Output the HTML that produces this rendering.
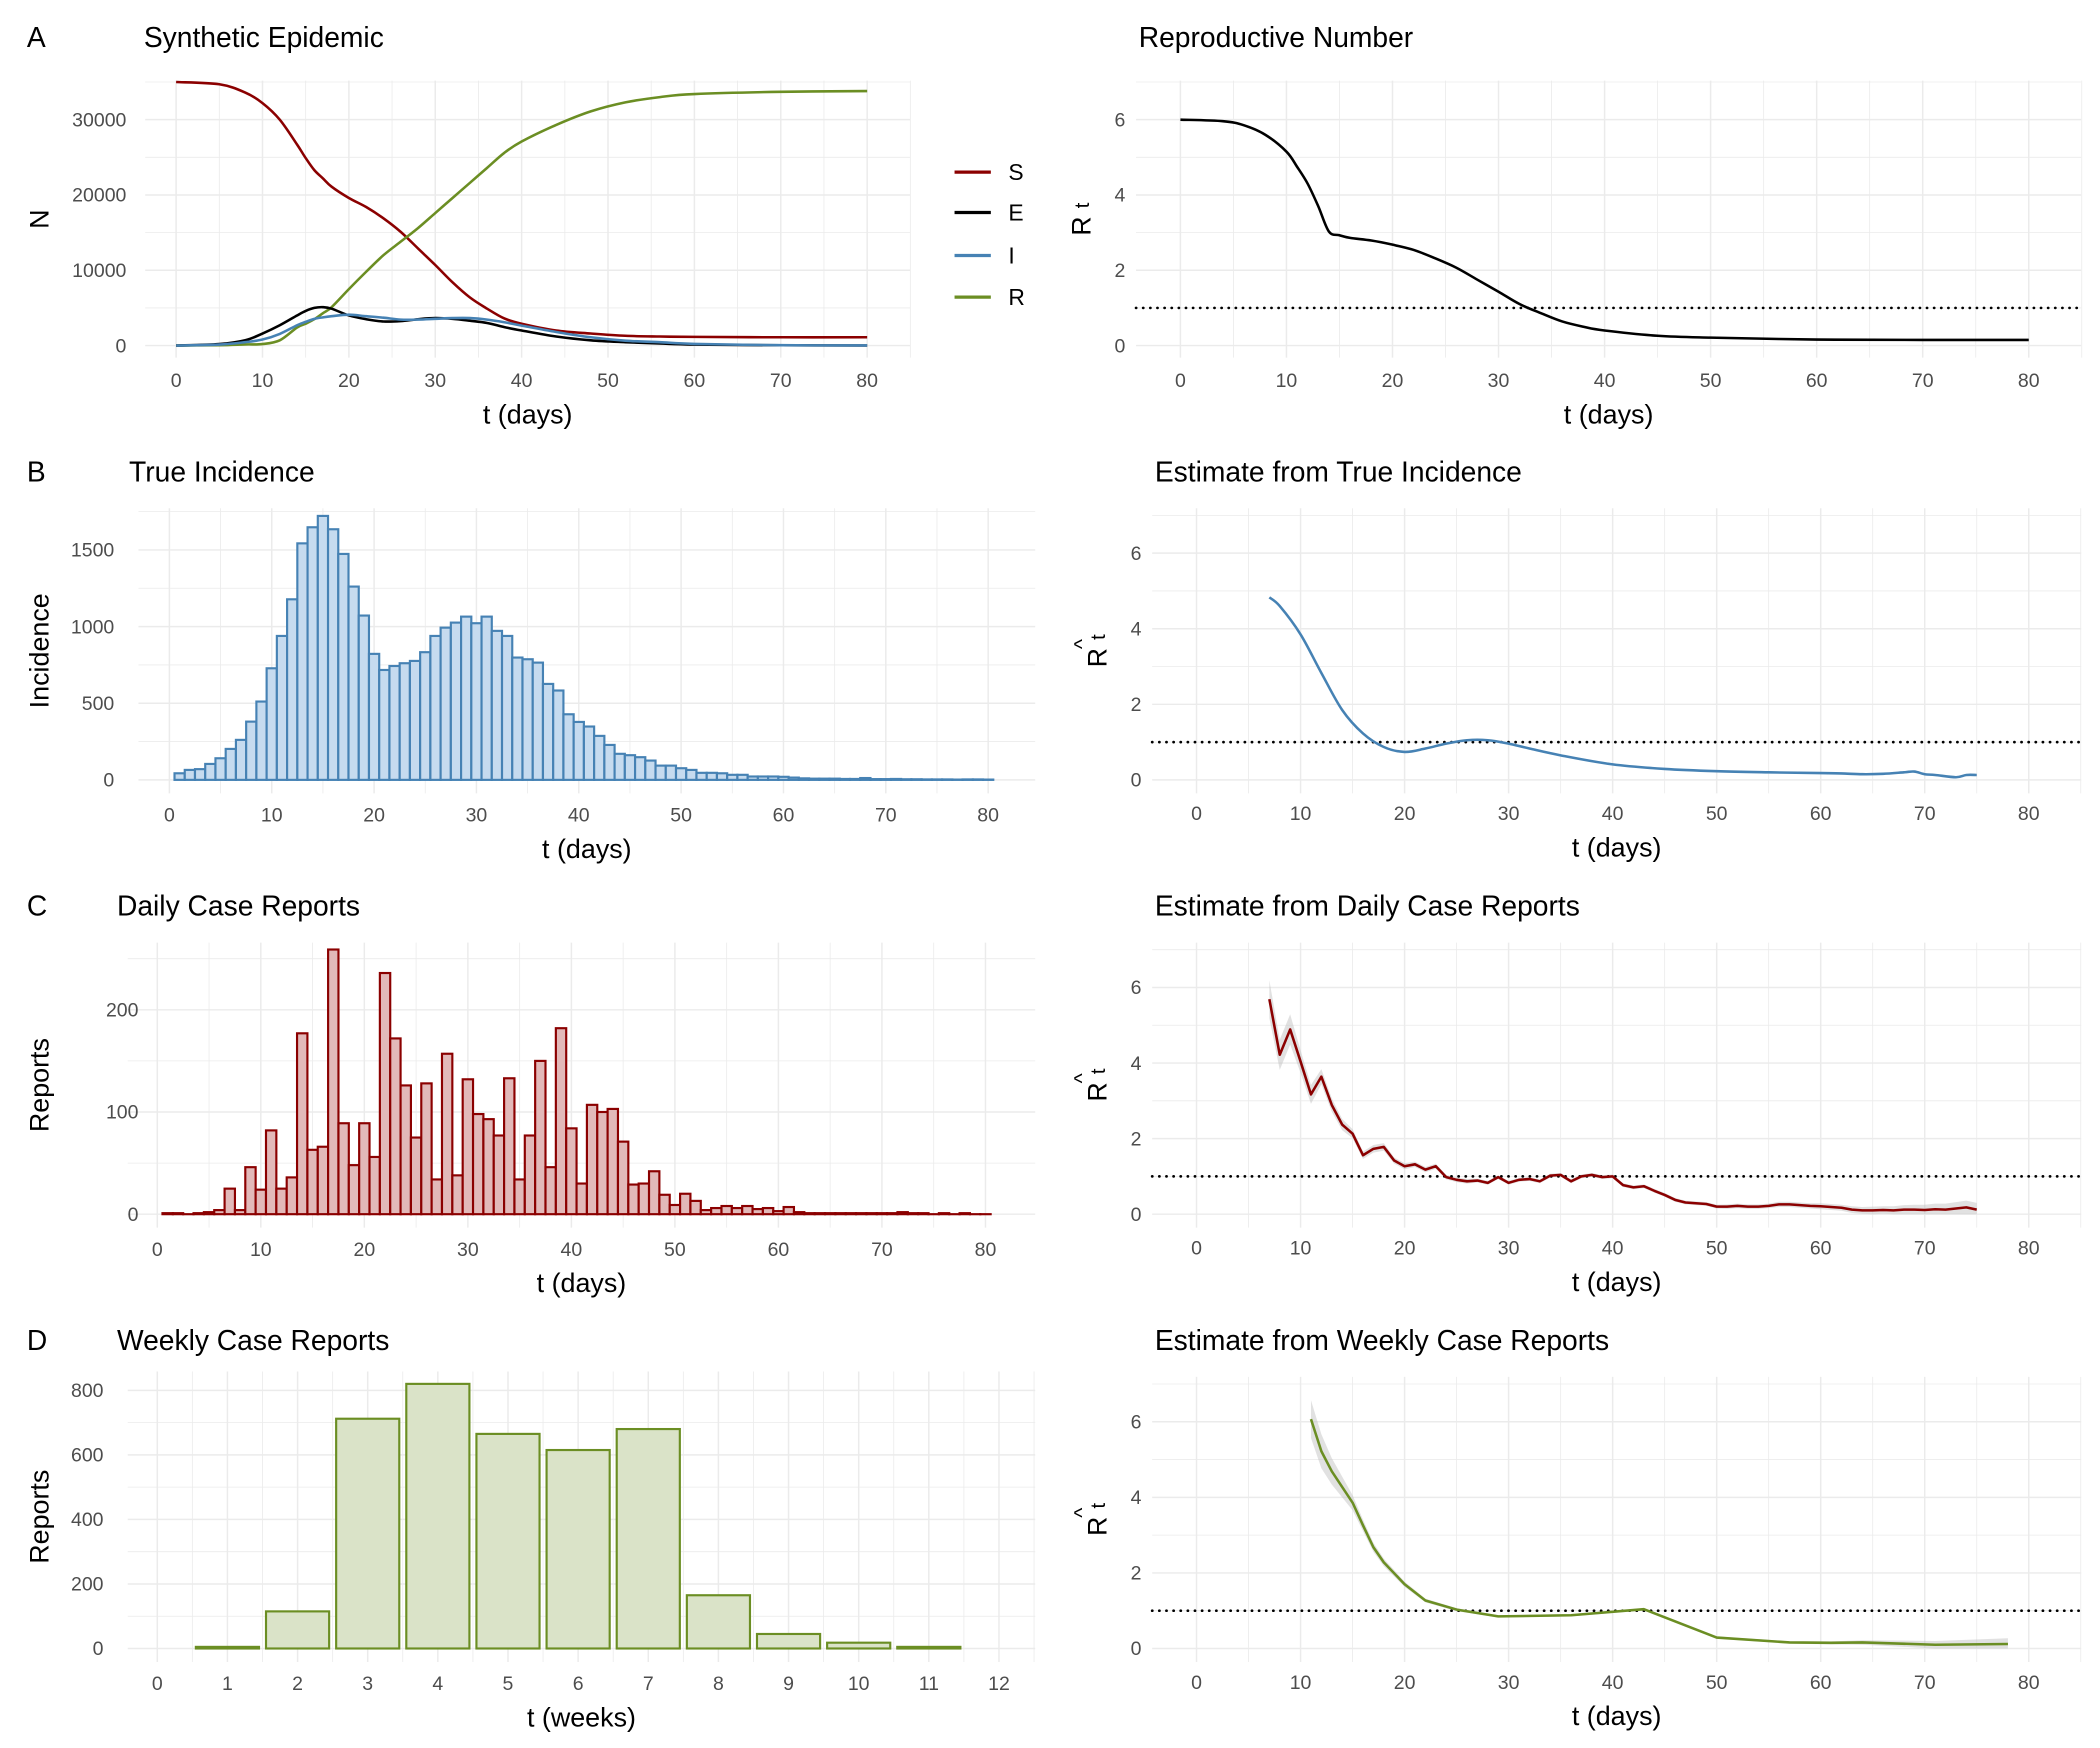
<!DOCTYPE html>
<html><head><meta charset="utf-8"><style>
html,body{margin:0;padding:0;background:#fff;}
svg{display:block;font-family:"Liberation Sans",sans-serif;}
</style></head><body>
<svg id="fig" width="2100" height="1748" viewBox="0 0 1562 1300" preserveAspectRatio="none" xmlns="http://www.w3.org/2000/svg"></svg>
<script>
// ---------- data ----------
const seirDays = [0,5,8,10,12,14,15,16,17,18,20,22,24,26,28,30,32,34,36,38,40,44,48,52,56,60,70,80];
const sVals = [35000,34700,33600,32200,30000,26700,24900,23300,22200,21100,19600,18400,16900,15100,12900,10700,8400,6400,4900,3600,2900,2000,1600,1300,1200,1150,1100,1100];
const eVals = [0,200,700,1600,2700,4000,4600,5000,5100,4900,4000,3500,3200,3250,3500,3650,3550,3300,3000,2450,2000,1200,700,450,270,130,40,10];
const iVals = [0,130,450,800,1550,2700,3150,3550,3750,3900,4100,3900,3700,3450,3450,3550,3650,3650,3450,3100,2650,1800,1100,650,450,220,50,20];
const rVals = [0,50,150,200,700,2400,2900,3500,4300,5100,7500,9800,12000,13800,15600,17600,19600,21600,23600,25600,27100,29300,31100,32300,33000,33400,33700,33800];

const rtDays = [0,4,6,8,10,11,12,13,14,15,16,18,20,22,24,26,28,30,32,34,36,38,40,45,50,60,70,80];
const rtVals = [6.0,5.96,5.85,5.6,5.15,4.75,4.3,3.7,3.03,2.93,2.86,2.79,2.68,2.54,2.32,2.07,1.75,1.43,1.1,0.86,0.64,0.5,0.4,0.26,0.21,0.16,0.15,0.15];

const incidence = [43,65,70,104,141,202,261,380,511,728,939,1178,1543,1648,1722,1635,1474,1261,1072,822,717,743,761,776,833,939,993,1026,1065,1022,1065,972,939,798,787,765,626,583,428,378,348,287,228,170,161,148,126,93,93,76,65,46,46,43,33,33,22,22,22,20,15,10,8,8,8,6,6,12,5,5,6,4,4,3,3,3,2,3,3,2];

const dailyReports = [1,1,0,1,2,4,25,4,46,24,82,25,36,177,63,66,259,89,48,89,56,236,172,126,75,128,34,157,38,132,98,93,77,133,34,77,150,46,182,84,30,107,100,103,71,29,30,42,19,9,20,13,4,6,8,6,8,5,6,3,7,2,1,1,1,1,1,1,1,1,1,2,1,1,0,1,0,1,0,0];

const weeks = [1,2,3,4,5,6,7,8,9,10,11];
const weeklyReports = [5,115,712,820,665,615,680,165,45,18,5];

const estTrueDays = [7,8,10,12,14,16,18,20,22,24,26,28,30,32,35,40,45,50,55,60,62,64,66,68,69,70,71,73,74,75];
const estTrueVals = [4.83,4.6,3.85,2.83,1.85,1.23,0.87,0.74,0.83,0.96,1.05,1.05,0.96,0.83,0.65,0.41,0.29,0.23,0.2,0.18,0.17,0.15,0.16,0.2,0.22,0.15,0.13,0.07,0.13,0.13];

const estDailyDays = [7,8,9,10,11,12,13,14,15,16,17,18,19,20,21,22,23,24,25,26,27,28,29,30,31,32,33,34,35,36,37,38,39,40,41,42,43,44,45,46,47,48,49,50,51,52,53,54,55,56,57,58,59,60,61,62,63,64,65,66,67,68,69,70,71,72,73,74,75];
const estDailyVals = [5.69,4.22,4.89,4.04,3.17,3.64,2.89,2.37,2.13,1.56,1.73,1.78,1.42,1.27,1.32,1.18,1.27,0.98,0.91,0.87,0.89,0.83,0.98,0.83,0.91,0.93,0.87,1.02,1.04,0.87,1.0,1.04,0.98,1.0,0.77,0.71,0.74,0.62,0.51,0.38,0.31,0.29,0.27,0.2,0.2,0.22,0.2,0.2,0.22,0.26,0.26,0.24,0.22,0.21,0.19,0.17,0.12,0.1,0.1,0.11,0.1,0.12,0.12,0.11,0.13,0.12,0.15,0.18,0.12];
const estDailyBand = [0.5,0.4,0.4,0.3,0.25,0.2,0.18,0.15,0.12,0.1,0.1,0.1,0.08,0.08,0.07,0.07,0.07,0.06,0.06,0.06,0.05,0.05,0.05,0.05,0.05,0.05,0.05,0.05,0.05,0.05,0.05,0.05,0.05,0.05,0.05,0.05,0.05,0.05,0.05,0.05,0.05,0.05,0.05,0.05,0.06,0.06,0.06,0.06,0.06,0.07,0.07,0.07,0.07,0.08,0.08,0.08,0.09,0.09,0.1,0.1,0.11,0.12,0.13,0.14,0.15,0.16,0.17,0.18,0.18];

const estWeeklyDays = [11,12,13,15,16,17,18,20,22,25,29,36,43,50,57,61,64,71,78];
const estWeeklyVals = [6.07,5.22,4.69,3.86,3.26,2.68,2.28,1.70,1.27,1.03,0.85,0.88,1.04,0.29,0.16,0.15,0.16,0.1,0.12];
const estWeeklyBand = [0.5,0.45,0.35,0.2,0.15,0.12,0.1,0.07,0.05,0.04,0.03,0.03,0.03,0.03,0.03,0.04,0.06,0.1,0.15];

const dayTicks = [0,10,20,30,40,50,60,70,80];
const weekTicks = [0,1,2,3,4,5,6,7,8,9,10,11,12];

// ---------- helpers ----------
const NS = "http://www.w3.org/2000/svg";
const svg = document.getElementById('fig');
function el(tag, attrs, parent, text){
  const e = document.createElementNS(NS, tag);
  for (const k in attrs) e.setAttribute(k, attrs[k]);
  if (text !== undefined) e.textContent = text;
  (parent || svg).appendChild(e);
  return e;
}
function makePanel(p){
  const g = el('g', {});
  
  
  p.sx = v => p.x0 + v * p.kx;
  p.sy = v => p.y0 - v * p.ky;
  const grid = el('g', {}, g);
  
  
  for (let v = p.xMinorStart; p.sx(v) <= p.right + 0.5; v += p.xStep / 2) {
    const X = p.sx(v); if (X < p.left - 0.5) continue;
    const major = Math.abs((v / p.xStep) - Math.round(v / p.xStep)) < 1e-6;
    const ln = el('line', {x1:X, x2:X, y1:p.top, y2:p.bottom, stroke:'#ebebeb', 'stroke-width': major ? 1.1 : 0.6}, grid);
    
    
  }
  for (let v = 0; p.sy(v) >= p.top - 0.5; v += p.yStep / 2) {
    const Y = p.sy(v);
    const major = Math.abs((v / p.yStep) - Math.round(v / p.yStep)) < 1e-6;
    const ln = el('line', {x1:p.left, x2:p.right, y1:Y, y2:Y, stroke:'#ebebeb', 'stroke-width': major ? 1.1 : 0.6}, grid);
    
    
  }
  p.xTicks.forEach(v => {
    const t = el('text', {x:p.sx(v), y:p.tickY, 'text-anchor':'middle', 'font-size':14.5, fill:'#4d4d4d'}, g, String(v));
    
    
  });
  for (let v = 0; p.sy(v) >= p.top; v += p.yStep) {
    const t = el('text', {x:p.yLabX, y:p.sy(v) + 5, 'text-anchor':'end', 'font-size':14.5, fill:'#4d4d4d'}, g, String(v));
    
    
  }
  const xt = el('text', {x:(p.left + p.right) / 2, y:p.tickY + 27, 'text-anchor':'middle', 'font-size':20, fill:'#000'}, g, p.xTitle);
  
  
  const ty = (p.top + p.bottom) / 2;
  const yt = el('text', {x:0, y:0, transform:'translate(' + (p.yTitleX) + ',' + ty + ') rotate(-90)', 'text-anchor':'middle', 'font-size':20, fill:'#000'}, g);
  
  
  if (p.yTitle === 'Rt' || p.yTitle === 'Rhat') {
    el('tspan', {}, yt, 'R');
    el('tspan', {dx:6, dy:-1, 'font-size':15}, yt, 't');
    if (p.yTitle === 'Rhat') {
      const h = el('text', {x:0, y:0, transform:'translate(' + (p.yTitleX - 13) + ',' + (ty - 5) + ') rotate(-90)', 'text-anchor':'middle', 'font-size':16}, g, '^');
      
      
    }
  } else {
    yt.textContent = p.yTitle;
  }
  const lt = el('text', {x:20, y:p.titleY, 'font-size':21, fill:'#000'}, g, p.letter || '');
  
  
  const tt = el('text', {x:p.titleX, y:p.titleY, 'font-size':21, fill:'#000'}, g, p.title);
  
  
  p.g = g;
  return p;
}
function pathD(p, xs, ys, smooth){
  const P = xs.map((x, i) => [p.sx(x), p.sy(ys[i])]);
  if (!smooth) return P.map((q, i) => (i ? 'L' : 'M') + q[0].toFixed(2) + ',' + q[1].toFixed(2)).join(' ');
  let d = 'M' + P[0][0].toFixed(2) + ',' + P[0][1].toFixed(2);
  for (let i = 0; i < P.length - 1; i++) {
    const p0 = P[Math.max(0, i - 1)], p1 = P[i], p2 = P[i + 1], p3 = P[Math.min(P.length - 1, i + 2)];
    const c1 = [p1[0] + (p2[0] - p0[0]) / 6, p1[1] + (p2[1] - p0[1]) / 6];
    const c2 = [p2[0] - (p3[0] - p1[0]) / 6, p2[1] - (p3[1] - p1[1]) / 6];
    d += ' C' + c1[0].toFixed(2) + ',' + c1[1].toFixed(2) + ' ' + c2[0].toFixed(2) + ',' + c2[1].toFixed(2) + ' ' + p2[0].toFixed(2) + ',' + p2[1].toFixed(2);
  }
  return d;
}
function line(p, xs, ys, color, name, smooth){
  const pa = el('path', {d:pathD(p, xs, ys, smooth), fill:'none', stroke:color, 'stroke-width':1.9, 'stroke-linejoin':'round'}, p.g);
  
  
}
function band(p, xs, ys, hs, name){
  let d = xs.map((x, i) => (i ? 'L' : 'M') + p.sx(x).toFixed(2) + ',' + p.sy(ys[i] + hs[i]).toFixed(2)).join(' ');
  for (let i = xs.length - 1; i >= 0; i--) d += ' L' + p.sx(xs[i]).toFixed(2) + ',' + p.sy(Math.max(0, ys[i] - hs[i])).toFixed(2);
  const pa = el('path', {d:d + ' Z', fill:'#bdbdbd', 'fill-opacity':0.45, stroke:'none'}, p.g);
  
  
}
function bars(p, xs, ys, w, fill, stroke, name){
  xs.forEach((x, i) => {
    const h = ys[i] * p.ky;
    const r = el('rect', {x:p.sx(x - w / 2), y:p.sy(ys[i]), width:w * p.kx, height:Math.max(h, 0.01), fill:fill, stroke:stroke, 'stroke-width':1.6}, p.g);
    
    
  });
}
function refLine(p){
  const l = el('line', {x1:p.left, x2:p.right, y1:p.sy(1), y2:p.sy(1), stroke:'#000', 'stroke-width':2, 'stroke-dasharray':'0.1 5.2', 'stroke-linecap':'round'}, p.g);
  
  
}
function rightPanel(name, title, rowOff, yTitle){
  return makePanel({name:name, letter:'', title:title, titleX:859, titleY:358 + rowOff,
    left:857, right:1548, top:378 + rowOff, bottom:590 + rowOff, x0:890, kx:7.7375, y0:580 + rowOff, ky:28.1,
    xStep:10, xMinorStart:-5, yStep:2, xTicks:dayTicks, tickY:610 + rowOff, yLabX:849, yTitle:yTitle, yTitleX:823, xTitle:'t (days)'});
}

// ---------- panel A ----------
const pA = makePanel({name:'synthetic-epidemic-panel', letter:'A', title:'Synthetic Epidemic', titleX:107, titleY:35,
  left:108, right:677, top:60, bottom:266, x0:131, kx:6.425, y0:257, ky:0.0056,
  xStep:10, xMinorStart:-5, yStep:10000, xTicks:dayTicks, tickY:288, yLabX:94, yTitle:'N', yTitleX:36, xTitle:'t (days)'});
line(pA, seirDays, sVals, '#8b0000', 'line-s', true);
line(pA, seirDays, rVals, '#6b8e23', 'line-r', true);
line(pA, seirDays, eVals, '#000000', 'line-e', true);
line(pA, seirDays, iVals, '#4682b4', 'line-i', true);
[['S','#8b0000',128],['E','#000',158],['I','#4682b4',190],['R','#6b8e23',221]].forEach(L => {
  const g = el('g', {});
  
  
  el('line', {x1:710, x2:737, y1:L[2], y2:L[2], stroke:L[1], 'stroke-width':2.4}, g);
  el('text', {x:750, y:L[2] + 6, 'font-size':17, fill:'#000'}, g, L[0]);
});

// ---------- panel A right ----------
const pAR = makePanel({name:'reproductive-number-panel', letter:'', title:'Reproductive Number', titleX:847, titleY:35,
  left:845, right:1548, top:60, bottom:266, x0:878, kx:7.8875, y0:257, ky:28,
  xStep:10, xMinorStart:-5, yStep:2, xTicks:dayTicks, tickY:288, yLabX:837, yTitle:'Rt', yTitleX:811, xTitle:'t (days)'});
refLine(pAR);
line(pAR, rtDays, rtVals, '#000', 'rt-line', true);

// ---------- panel B ----------
const pB = makePanel({name:'true-incidence-panel', letter:'B', title:'True Incidence', titleX:96, titleY:358,
  left:103, right:770, top:378, bottom:590, x0:126, kx:7.6125, y0:580, ky:0.114,
  xStep:10, xMinorStart:-5, yStep:500, xTicks:dayTicks, tickY:611, yLabX:85, yTitle:'Incidence', yTitleX:36, xTitle:'t (days)'});
bars(pB, incidence.map((v, i) => i + 1), incidence, 1, '#c6dbef', '#4682b4', 'incidence-bar');
const pBR = rightPanel('estimate-true-incidence-panel', 'Estimate from True Incidence', 0, 'Rhat');
refLine(pBR);
line(pBR, estTrueDays, estTrueVals, '#4682b4', 'estimate-true-line', true);

// ---------- panel C ----------
const pC = makePanel({name:'daily-reports-panel', letter:'C', title:'Daily Case Reports', titleX:87, titleY:681,
  left:95, right:770, top:701, bottom:913, x0:117, kx:7.7, y0:903, ky:0.76,
  xStep:10, xMinorStart:-5, yStep:100, xTicks:dayTicks, tickY:934, yLabX:103, yTitle:'Reports', yTitleX:36, xTitle:'t (days)'});
bars(pC, dailyReports.map((v, i) => i + 1), dailyReports, 1, '#e2b9b9', '#8b0000', 'daily-report-bar');
const pCR = rightPanel('estimate-daily-reports-panel', 'Estimate from Daily Case Reports', 323, 'Rhat');
band(pCR, estDailyDays, estDailyVals, estDailyBand, 'estimate-daily-ci');
refLine(pCR);
line(pCR, estDailyDays, estDailyVals, '#8b0000', 'estimate-daily-line', false);

// ---------- panel D ----------
const pD = makePanel({name:'weekly-reports-panel', letter:'D', title:'Weekly Case Reports', titleX:87, titleY:1004,
  left:95, right:770, top:1020, bottom:1236, x0:117, kx:52.17, y0:1226, ky:0.24,
  xStep:1, xMinorStart:-0.5, yStep:200, xTicks:weekTicks, tickY:1257, yLabX:77, yTitle:'Reports', yTitleX:36, xTitle:'t (weeks)'});
bars(pD, weeks, weeklyReports, 0.9, '#dae3c8', '#6b8e23', 'weekly-report-bar');
const pDR = rightPanel('estimate-weekly-reports-panel', 'Estimate from Weekly Case Reports', 646, 'Rhat');
band(pDR, estWeeklyDays, estWeeklyVals, estWeeklyBand, 'estimate-weekly-ci');
refLine(pDR);
line(pDR, estWeeklyDays, estWeeklyVals, '#6b8e23', 'estimate-weekly-line', false);
</script>
</body></html>
